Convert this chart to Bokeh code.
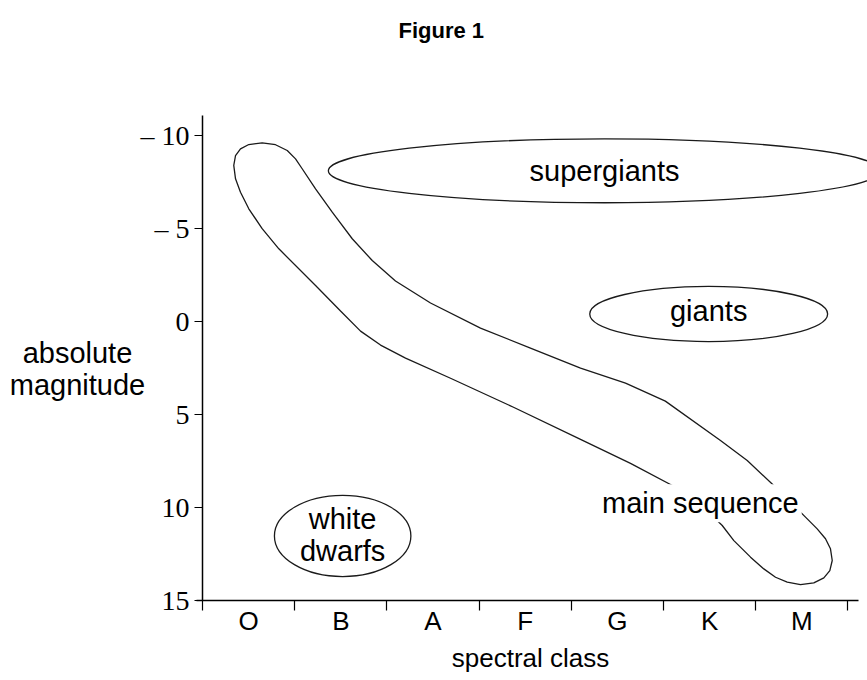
from bokeh.plotting import figure
from bokeh.models import Range1d, FixedTicker, Label
from bokeh.embed import file_html
from bokeh.resources import INLINE

# spectral classes (category i sits at x = i, class boundaries at i +/- 0.5)
classes = ["O", "B", "A", "F", "G", "K", "M"]
class_pos = [0, 1, 2, 3, 4, 5, 6]
class_bounds = [-0.5, 0.5, 1.5, 2.5, 3.5, 4.5, 5.5, 6.5]
class_axis_start = -0.565
class_axis_end = 6.62

# absolute magnitude ticks and drawn extent of the magnitude axis
mag_ticks = [-10, -5, 0, 5, 10, 15]
mag_labels = ["\u2013 10", "\u2013 5", "0", "5", "10", "15"]
mag_axis_top = -11.05
mag_axis_bottom = 15

# main-sequence band outline (spectral position, absolute magnitude), clockwise
ms_x = [-0.161, -0.142, -0.088, 0.002, 0.147, 0.292, 0.419, 0.509, 0.581, 0.726,
        0.907, 1.124, 1.341, 1.593, 1.973, 2.515, 3.057, 3.6, 4.088, 4.52,
        5.118, 5.408, 5.696, 6.040, 6.167, 6.257, 6.311, 6.330, 6.304, 6.239,
        6.130, 5.986, 5.842, 5.715, 5.588, 5.444, 5.263, 5.137, 4.901, 4.652,
        4.142, 3.6, 2.873, 2.19, 1.702, 1.431, 1.214, 0.997, 0.726,
        0.328, 0.147, 0.002, -0.088, -0.142]
ms_mag = [-8.37, -8.90, -9.26, -9.49, -9.58, -9.48, -9.17, -8.72, -8.19, -7.11,
          -5.86, -4.43, -3.26, -2.16, -0.98, 0.37, 1.44, 2.52, 3.32, 4.29,
          6.40, 7.48, 8.82, 10.52, 11.15, 11.68, 12.22, 12.85, 13.39, 13.78,
          14.05, 14.14, 14.01, 13.75, 13.30, 12.67, 11.78, 10.97, 9.83, 8.97,
          7.63, 6.34, 4.62, 3.06, 1.98, 1.28, 0.53, -0.55, -1.92,
          -3.89, -4.97, -6.04, -6.93, -7.65]

# other star regions as ellipses: name, centre x, centre magnitude, width, height
regions = ["supergiants", "giants", "white\ndwarfs"]
reg_x = [3.86, 4.99, 1.02]
reg_mag = [-8.08, -0.39, 11.53]
reg_w = [5.99, 2.58, 1.48]
reg_h = [3.43, 2.96, 4.36]
reg_label_mag = [-8.08, -0.55, 11.5]

ms_label = "main sequence"
ms_label_x = 4.90
ms_label_mag = 9.78

# heading and axis titles (positions in the chart's own units)
title_text = "Figure 1"
title_x, title_mag = 1.626, -15.615
xtitle_text = "spectral class"
xtitle_x, xtitle_mag = 3.0575, 18.11
ytitle_text = "absolute\nmagnitude"
ytitle_x, ytitle_mag = -1.856, 2.538

SANS = "Liberation Sans"
SERIF = "Liberation Serif"

# the plotting area covers the whole page; the axes sit at fixed positions in it
p = figure(width=867, height=680, output_backend="svg", toolbar_location=None,
           x_range=Range1d(-2.691, 6.7125), y_range=Range1d(19.294, -17.226),
           min_border=0, min_border_left=0, min_border_right=0,
           min_border_top=0, min_border_bottom=0, title_location=None)
p.outline_line_color = None
p.grid.visible = False
p.background_fill_color = "white"
p.border_fill_color = "white"

# x axis
xa = p.below[0]
xa.fixed_location = mag_axis_bottom
xa.bounds = (class_axis_start, class_axis_end)
xa.ticker = FixedTicker(ticks=class_pos, minor_ticks=class_bounds)
xa.major_label_overrides = {k: v for k, v in zip(class_pos, classes)}
xa.major_tick_out = 0
xa.major_tick_in = 0
xa.minor_tick_out = 10
xa.minor_tick_in = 0
xa.minor_tick_line_color = "black"
xa.minor_tick_line_width = 1.2
xa.axis_line_color = "black"
xa.axis_line_width = 1.5
xa.major_label_text_font = SANS
xa.major_label_text_font_size = "26px"
xa.major_label_text_color = "black"
xa.major_label_standoff = -5

# y axis
ya = p.left[0]
ya.fixed_location = class_bounds[0]
ya.bounds = (mag_axis_top, mag_axis_bottom)
ya.ticker = FixedTicker(ticks=mag_ticks, minor_ticks=[])
ya.major_label_overrides = {k: v for k, v in zip(mag_ticks, mag_labels)}
ya.major_tick_out = 8
ya.major_tick_in = 0
ya.major_tick_line_color = "black"
ya.major_tick_line_width = 1.2
ya.minor_tick_line_color = None
ya.axis_line_color = "black"
ya.axis_line_width = 1.5
ya.major_label_text_font = SERIF
ya.major_label_text_font_size = "28px"
ya.major_label_text_color = "black"
ya.major_label_standoff = 5

LINE = "#1a1a1a"

# main sequence band
p.patch(ms_x, ms_mag, fill_color=None, line_color=LINE, line_width=1.3)

# other regions
p.ellipse(x=reg_x, y=reg_mag, width=reg_w, height=reg_h, fill_color=None,
          line_color=LINE, line_width=1.3)

for name, x, m in zip(regions, reg_x, reg_label_mag):
    p.add_layout(Label(x=x, y=m, text=name, text_align="center",
                       text_baseline="middle", text_font=SANS,
                       text_font_size="29px", text_color="black",
                       text_line_height=1.0))

p.add_layout(Label(x=ms_label_x, y=ms_label_mag, text=ms_label,
                   text_align="center", text_baseline="middle",
                   text_font=SANS, text_font_size="29px", text_color="black",
                   background_fill_color="white", background_fill_alpha=1.0,
                   padding=3))

# axis titles
p.add_layout(Label(x=xtitle_x, y=xtitle_mag, text=xtitle_text,
                   text_align="center", text_baseline="middle",
                   text_font=SANS, text_font_size="26px", text_color="black"))
p.add_layout(Label(x=ytitle_x, y=ytitle_mag, text=ytitle_text,
                   text_align="center", text_baseline="middle",
                   text_font=SANS, text_font_size="29px", text_color="black",
                   text_line_height=1.0))

# heading
p.add_layout(Label(x=title_x, y=title_mag, text=title_text, text_align="left",
                   text_baseline="middle", text_font=SANS,
                   text_font_size="22px", text_font_style="bold",
                   text_color="black"))

open("out.html", "w").write(file_html(p, INLINE))
